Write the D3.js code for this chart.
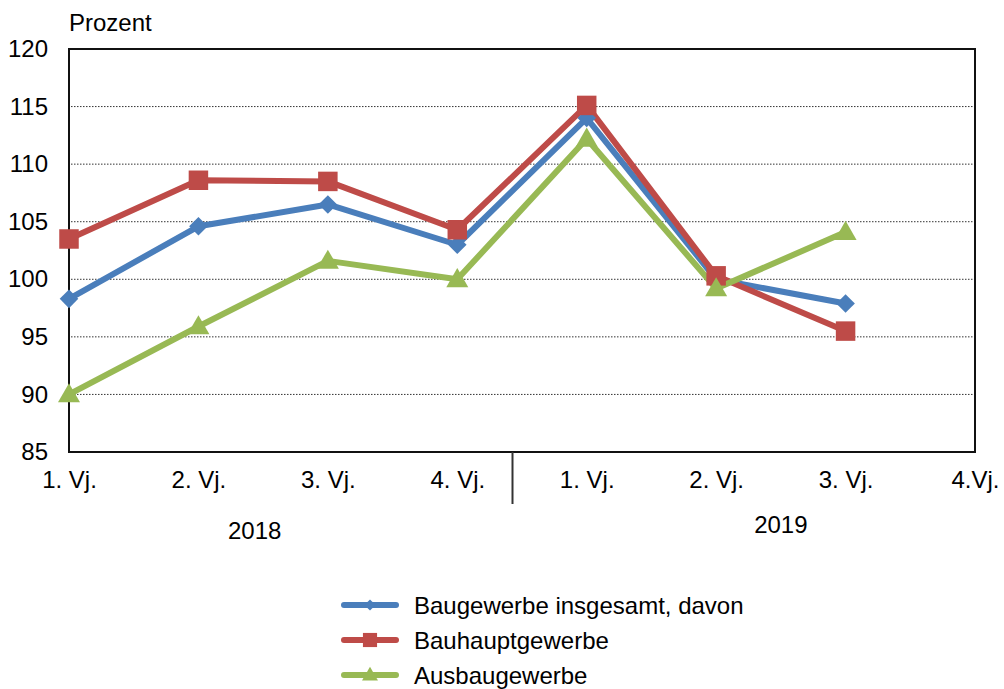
<!DOCTYPE html>
<html>
<head>
<meta charset="utf-8">
<script src="https://cdn.jsdelivr.net/npm/d3@7"></script>
<style>
  body { margin: 0; background: #fff; }
  svg { font-family: "Liberation Sans", Arial, sans-serif; }
</style>
</head>
<body>
<svg width="1004" height="689"></svg>
<script>
// Data
const quarters = ["1. Vj.", "2. Vj.", "3. Vj.", "4. Vj.", "1. Vj.", "2. Vj.", "3. Vj.", "4.Vj."];
const years = ["2018", "2019"];
const yTicks = [85, 90, 95, 100, 105, 110, 115, 120];

const insgesamt = [98.3, 104.6, 106.5, 103.0, 114.0, 100.0, 97.9];
const bauhaupt = [103.5, 108.6, 108.5, 104.3, 115.1, 100.3, 95.5];
const ausbau = [90.0, 95.9, 101.6, 100.0, 112.2, 99.2, 104.1];

const seriesNames = ["Baugewerbe insgesamt, davon", "Bauhauptgewerbe", "Ausbaugewerbe"];
const seriesColors = ["#4A7EBB", "#BE4B48", "#98B954"];
const seriesSymbols = [d3.symbolDiamond2, d3.symbolSquare, d3.symbolTriangle];

// Scales
const plotL = 69, plotR = 975, plotT = 49, plotB = 452;
const idx = quarters.map((d, i) => i);
let x = d3.scalePoint().domain(idx).range([plotL, plotR]);
let y = d3.scaleLinear().domain([85, 120]).range([plotB, plotT]);

const svg = d3.select("svg");
const fs = "24px";

// dotted grid
svg.append("g")
  .selectAll("line")
  .data(yTicks.filter(t => t > 85 && t < 120))
  .join("line")
  .attr("x1", plotL + 2)
  .attr("x2", plotR - 2)
  .attr("y1", d => y(d))
  .attr("y2", d => y(d))
  .attr("stroke", "#333")
  .attr("stroke-width", 1)
  .attr("stroke-dasharray", "1.5,1.5");

// frame
svg.append("rect")
  .attr("x", plotL)
  .attr("y", plotT)
  .attr("width", plotR - plotL)
  .attr("height", plotB - plotT)
  .attr("fill", "none")
  .attr("stroke", "#111")
  .attr("stroke-width", 2);

// y axis labels
let yAxis = d3.axisLeft(y).tickValues(yTicks).tickSize(0).tickPadding(21);
const gy = svg.append("g").attr("transform", `translate(${plotL},0)`).call(yAxis);
gy.select(".domain").remove();
gy.selectAll("text").style("font-size", fs).style("font-family", "Liberation Sans, Arial").attr("fill", "#000");

// x axis labels
let xAxis = d3.axisBottom(x).tickSize(0).tickPadding(19).tickFormat(i => quarters[i]);
const gx = svg.append("g").attr("transform", `translate(0,${plotB})`).call(xAxis);
gx.select(".domain").remove();
gx.selectAll("text").style("font-size", fs).style("font-family", "Liberation Sans, Arial").attr("fill", "#000");

// year separator
const sep = (x(3) + x(4)) / 2 - 9.5;
svg.append("line")
  .attr("x1", sep).attr("x2", sep)
  .attr("y1", plotB).attr("y2", plotB + 52)
  .attr("stroke", "#333").attr("stroke-width", 2);

// year labels
svg.append("text").attr("x", (x(1) + x(2)) / 2 - 8.5).attr("y", 539)
  .attr("text-anchor", "middle").style("font-size", fs).text(years[0]);
svg.append("text").attr("x", (x(5) + x(6)) / 2).attr("y", 533)
  .attr("text-anchor", "middle").style("font-size", fs).text(years[1]);

// axis title
svg.append("text").attr("x", 69).attr("y", 31)
  .style("font-size", fs).text("Prozent");

// series
const allSeries = [insgesamt, bauhaupt, ausbau];
const line = d3.line()
  .x((d, i) => x(i))
  .y(d => y(d));

const symSizes = [220, 380, 210];
allSeries.forEach((vals, s) => {
  svg.append("path")
    .datum(vals)
    .attr("d", line)
    .attr("fill", "none")
    .attr("stroke", seriesColors[s])
    .attr("stroke-width", 6)
    .attr("stroke-linejoin", "round");
});
allSeries.forEach((vals, s) => {
  svg.append("g")
    .selectAll("path")
    .data(vals)
    .join("path")
    .attr("d", d3.symbol().type(seriesSymbols[s]).size(symSizes[s]))
    .attr("transform", (d, i) => `translate(${x(i)},${y(d) + (s === 2 ? 1.5 : 0)})`)
    .attr("fill", seriesColors[s]);
});

// legend
const legend = svg.append("g");
const legendY = [605, 640, 675];
const legSizes = [80, 200, 110];
seriesNames.forEach((name, s) => {
  const g = legend.append("g").attr("transform", `translate(0,${legendY[s]})`);
  g.append("line").attr("x1", 344).attr("x2", 396).attr("y1", 0).attr("y2", 0)
    .attr("stroke", seriesColors[s]).attr("stroke-width", 6).attr("stroke-linecap", "round");
  g.append("path")
    .attr("d", d3.symbol().type(seriesSymbols[s]).size(legSizes[s]))
    .attr("transform", `translate(370,${s === 2 ? 1 : 0})`)
    .attr("fill", seriesColors[s]);
  g.append("text").attr("x", 414).attr("y", 9).style("font-size", fs).text(name);
});
</script>
</body>
</html>
